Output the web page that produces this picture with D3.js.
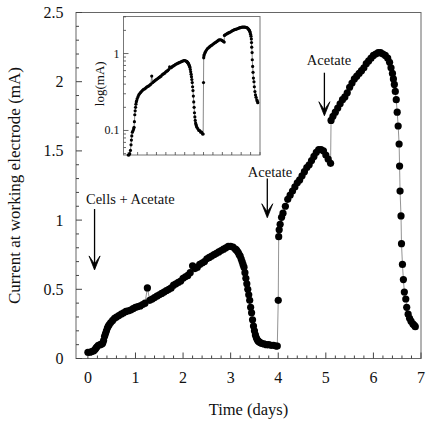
<!DOCTYPE html>
<html>
<head>
<meta charset="utf-8">
<script src="https://cdn.jsdelivr.net/npm/d3@7/dist/d3.min.js"></script>
<style>
  html, body { margin: 0; padding: 0; background: #fff; }
  svg { display: block; font-family: "Liberation Serif", "Times New Roman", serif; }
</style>
</head>
<body>
<svg id="chart" width="430" height="424"></svg>
<script>
// ---- data ----
const days = [
  0.00, 0.04, 0.08, 0.12, 0.15, 0.17, 0.19, 0.22, 0.26, 0.29,
  0.31, 0.33, 0.35, 0.37, 0.39, 0.41, 0.43, 0.45, 0.48, 0.52,
  0.56, 0.60, 0.65,
  0.70, 0.75, 0.80, 0.85, 0.90, 0.95, 1.00, 1.05, 1.10, 1.15,
  1.20, 1.25, 1.30, 1.35, 1.40, 1.45, 1.50, 1.55, 1.60, 1.65,
  1.70, 1.75, 1.80, 1.85, 1.90, 1.95, 2.00, 2.05, 2.10, 2.15,
  2.20, 2.25, 2.30, 2.35, 2.40, 2.45, 2.50, 2.55, 2.60, 2.65,
  2.70, 2.75, 2.80, 2.85, 2.90, 2.95, 3.00, 3.05,
  3.10, 3.12, 3.14, 3.16, 3.18, 3.20, 3.22, 3.24, 3.26, 3.28,
  3.30, 3.32, 3.34, 3.36, 3.38, 3.40, 3.42, 3.44, 3.46, 3.48,
  3.50, 3.52, 3.54, 3.56, 3.58, 3.60, 3.62, 3.65, 3.70, 3.75,
  3.80, 3.85, 3.90, 3.95, 3.98,
  4.00, 4.01, 4.02, 4.04, 4.07, 4.10, 4.15, 4.20, 4.25, 4.30,
  4.35, 4.40, 4.45, 4.50, 4.55, 4.60, 4.65, 4.70, 4.75, 4.80,
  4.85, 4.90, 4.95, 5.00, 5.05, 5.10,
  5.11, 5.15, 5.20, 5.25, 5.30, 5.35, 5.40, 5.45, 5.50, 5.55,
  5.60, 5.65, 5.70, 5.75, 5.80, 5.85, 5.90, 5.95, 6.00, 6.05,
  6.10, 6.15, 6.20, 6.25, 6.30, 6.34, 6.37, 6.40, 6.42, 6.44,
  6.46, 6.48, 6.50, 6.52, 6.54, 6.55, 6.56, 6.58, 6.59, 6.61,
  6.63, 6.65, 6.68, 6.70, 6.73, 6.76, 6.79, 6.83, 6.86, 6.88
];
const current = [
  0.045, 0.045, 0.050, 0.055, 0.065, 0.075, 0.085, 0.095, 0.100, 0.105,
  0.110, 0.130, 0.160, 0.180, 0.200, 0.220, 0.235, 0.245, 0.260, 0.275,
  0.290, 0.300, 0.310,
  0.320, 0.330, 0.340, 0.345, 0.350, 0.360, 0.370, 0.375, 0.380, 0.390,
  0.400, 0.510, 0.420, 0.430, 0.440, 0.450, 0.460, 0.470, 0.480, 0.490,
  0.500, 0.510, 0.530, 0.540, 0.550, 0.560, 0.580, 0.590, 0.600, 0.620,
  0.670, 0.650, 0.660, 0.680, 0.690, 0.700, 0.720, 0.730, 0.740, 0.750,
  0.760, 0.770, 0.780, 0.790, 0.800, 0.810, 0.810, 0.805,
  0.790, 0.785, 0.775, 0.765, 0.750, 0.740, 0.720, 0.700, 0.680, 0.660,
  0.620, 0.580, 0.540, 0.500, 0.460, 0.420, 0.370, 0.330, 0.280, 0.235,
  0.200, 0.170, 0.150, 0.135, 0.125, 0.120, 0.115, 0.110, 0.105, 0.100,
  0.100, 0.095, 0.095, 0.090, 0.090,
  0.420, 0.880, 0.930, 0.970, 1.020, 1.050, 1.100, 1.150, 1.180, 1.210,
  1.240, 1.270, 1.290, 1.320, 1.350, 1.380, 1.400, 1.430, 1.460, 1.490,
  1.510, 1.510, 1.500, 1.470, 1.440, 1.410,
  1.720, 1.750, 1.780, 1.810, 1.840, 1.870, 1.890, 1.920, 1.960, 1.990,
  2.020, 2.040, 2.060, 2.080, 2.100, 2.130, 2.150, 2.170, 2.190, 2.200,
  2.210, 2.210, 2.200, 2.190, 2.170, 2.140, 2.100, 2.060, 2.020, 1.980,
  1.930, 1.870, 1.780, 1.680, 1.550, 1.390, 1.210, 1.030, 0.830, 0.680,
  0.570, 0.480, 0.430, 0.370, 0.320, 0.290, 0.270, 0.250, 0.240, 0.230
];
const xTickLabels = [0, 1, 2, 3, 4, 5, 6, 7];
const yTickLabels = [0, 0.5, 1, 1.5, 2, 2.5];
const insetYTickLabels = [0.1, 1];
const annotationText = ["Cells + Acetate", "Acetate", "Acetate"];
const annotationDay = [0.14, 3.77, 4.97];       // arrow x position (days)
const annotationTop = [1.08, 1.30, 2.065];       // arrow tail (mA)
const annotationTip = [0.64, 1.017, 1.754];      // arrow tip (mA)

const data = days.map((d, i) => ({ t: d, v: current[i] }));

// ---- layout ----
const svg = d3.select("#chart");
const M = { left: 76, right: 421, top: 12.5, bottom: 358.5 };
const x = d3.scaleLinear().domain([-0.25, 7]).range([M.left, M.right]);
const y = d3.scaleLinear().domain([0, 2.5]).range([M.bottom, M.top]);
const axisColor = "#444";

// frame
svg.append("rect")
  .attr("x", M.left).attr("y", M.top)
  .attr("width", M.right - M.left).attr("height", M.bottom - M.top)
  .attr("fill", "none").attr("stroke", "#666").attr("stroke-width", 1);

// main x axis ticks (inside)
const xMinor = d3.range(0, 7.001, 0.2);
svg.append("g").selectAll("line").data(xMinor).join("line")
  .attr("x1", d => x(d)).attr("x2", d => x(d))
  .attr("y1", M.bottom)
  .attr("y2", d => M.bottom - (Math.abs(d - Math.round(d)) < 1e-6 ? 6 : 3))
  .attr("stroke", axisColor).attr("stroke-width", 1);
svg.append("g").selectAll("text").data(xTickLabels).join("text")
  .attr("x", d => x(d)).attr("y", 383)
  .attr("text-anchor", "middle").attr("font-size", 16).attr("fill", "#111")
  .text(d => d);

// main y axis ticks (inside)
const yMinor = d3.range(0, 2.5001, 0.1);
svg.append("g").selectAll("line").data(yMinor).join("line")
  .attr("x1", M.left)
  .attr("x2", d => M.left + (Math.abs(d * 2 - Math.round(d * 2)) < 1e-6 ? 6 : 3))
  .attr("y1", d => y(d)).attr("y2", d => y(d))
  .attr("stroke", axisColor).attr("stroke-width", 1);
svg.append("g").selectAll("text").data(yTickLabels).join("text")
  .attr("x", 63.5).attr("y", d => y(d) + 5.5)
  .attr("text-anchor", "end").attr("font-size", 16).attr("fill", "#111")
  .text(d => d);

// axis titles
svg.append("text")
  .attr("x", (M.left + M.right) / 2).attr("y", 415)
  .attr("text-anchor", "middle").attr("font-size", 16.5).attr("fill", "#111")
  .text("Time (days)");
svg.append("text")
  .attr("transform", `translate(19.5,${(M.top + M.bottom) / 2}) rotate(-90)`)
  .attr("text-anchor", "middle").attr("font-size", 17).attr("fill", "#111")
  .text("Current at working electrode (mA)");

// main series
const line = d3.line().x(d => x(d.t)).y(d => y(d.v));
svg.append("path").datum(data).attr("d", line)
  .attr("fill", "none").attr("stroke", "#777").attr("stroke-width", 0.8);
svg.append("g").selectAll("circle").data(data).join("circle")
  .attr("cx", d => x(d.t)).attr("cy", d => y(d.v)).attr("r", 3.6)
  .attr("fill", "#000");

// annotations
annotationText.forEach((txt, i) => {
  const ax = x(annotationDay[i]);
  const yTop = y(annotationTop[i]);
  const yTip = y(annotationTip[i]);
  svg.append("line")
    .attr("x1", ax).attr("x2", ax).attr("y1", yTop).attr("y2", yTip - 2)
    .attr("stroke", "#000").attr("stroke-width", 1.3);
  svg.append("path")
    .attr("d", `M${ax - 5.5},${yTip - 14} L${ax},${yTip} L${ax + 5.5},${yTip - 14} L${ax},${yTip - 6} Z`)
    .attr("fill", "#000").attr("stroke", "#000").attr("stroke-width", 0.8)
    .attr("stroke-linejoin", "miter");
});
svg.append("text").attr("x", 86).attr("y", y(annotationTop[0]) - 5)
  .attr("font-size", 14.5).attr("fill", "#111").text(annotationText[0]);
svg.append("text").attr("x", 270).attr("y", 176.5)
  .attr("text-anchor", "middle").attr("font-size", 14.5).attr("fill", "#111").text(annotationText[1]);
svg.append("text").attr("x", 329).attr("y", 64.5)
  .attr("text-anchor", "middle").attr("font-size", 14.5).attr("fill", "#111").text(annotationText[2]);

// ---- inset ----
const I = { left: 123.5, right: 260, top: 16.5, bottom: 155 };
const xi = d3.scaleLinear().domain([-0.25, 7]).range([I.left, I.right]);
const yi = d3.scaleLog().domain([0.048, 3.03]).range([I.bottom, I.top]).clamp(true);

svg.append("rect")
  .attr("x", I.left).attr("y", I.top)
  .attr("width", I.right - I.left).attr("height", I.bottom - I.top)
  .attr("fill", "#fff").attr("stroke", "#777").attr("stroke-width", 1);

// inset x ticks
const xiTicks = d3.range(0, 7.001, 0.5);
svg.append("g").selectAll("line").data(xiTicks).join("line")
  .attr("x1", d => xi(d)).attr("x2", d => xi(d))
  .attr("y1", I.bottom).attr("y2", I.bottom - 3)
  .attr("stroke", axisColor).attr("stroke-width", 0.8);

// inset y log ticks
const yiMinor = [0.05, 0.06, 0.07, 0.08, 0.09, 0.1, 0.2, 0.3, 0.4, 0.5, 0.6, 0.7, 0.8, 0.9, 1, 2, 3];
svg.append("g").selectAll("line").data(yiMinor).join("line")
  .attr("x1", I.left)
  .attr("x2", d => I.left + (insetYTickLabels.includes(d) ? 5 : 2.5))
  .attr("y1", d => yi(d)).attr("y2", d => yi(d))
  .attr("stroke", axisColor).attr("stroke-width", 0.8);
svg.append("g").selectAll("text").data(insetYTickLabels).join("text")
  .attr("x", 119.5).attr("y", d => yi(d) + 4)
  .attr("text-anchor", "end").attr("font-size", 12).attr("fill", "#111")
  .text(d => d);
svg.append("text")
  .attr("transform", `translate(104,${(I.top + I.bottom) / 2 - 2}) rotate(-90)`)
  .attr("text-anchor", "middle").attr("font-size", 13).attr("fill", "#111")
  .text("log(mA)");

const linei = d3.line().x(d => xi(d.t)).y(d => yi(d.v));
svg.append("path").datum(data).attr("d", linei)
  .attr("fill", "none").attr("stroke", "#555").attr("stroke-width", 0.7);
svg.append("g").selectAll("circle").data(data).join("circle")
  .attr("cx", d => xi(d.t)).attr("cy", d => yi(d.v)).attr("r", 1.6)
  .attr("fill", "#000");
</script>
</body>
</html>
